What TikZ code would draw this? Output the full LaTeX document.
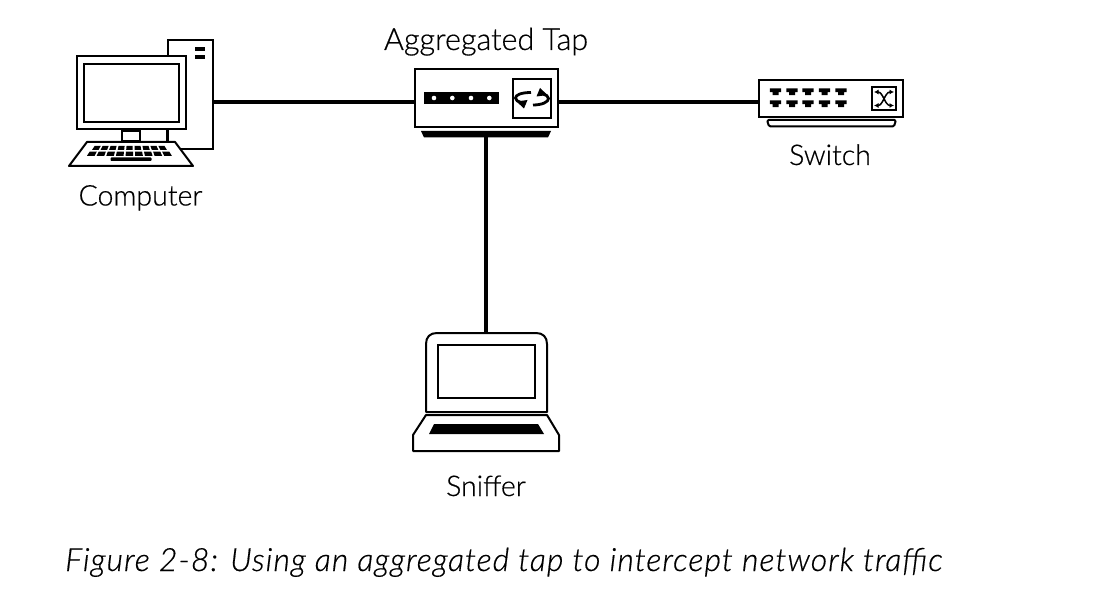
\documentclass[tikz,border=0pt]{standalone}
\usepackage{fontspec}
\setmainfont{Lato Light}[FakeBold=0.5]
\newfontfamily\capfont{Lato Light Italic}[LetterSpace=3.2,FakeBold=0.5]
\usetikzlibrary{arrows.meta,calc}
\tikzset{
  devbox/.style={draw=black,fill=white,line width=2pt,inner sep=0pt,outer sep=0pt,rectangle},
  thin line/.style={draw=black,line width=2pt,line join=round},
  solid black/.style={fill=black,draw=none},
  wire/.style={draw=black,line width=3.3pt},
  lbl/.style={font=\fontsize{28.5}{32}\selectfont,text=black,inner sep=0pt,anchor=base},
  caption/.style={font=\fontsize{32}{35}\capfont,text=black,inner sep=0pt,anchor=base west},
  swaparrow/.style={line width=1.5pt,{Latex[length=4.5pt,width=5pt]}-{Latex[length=4.5pt,width=5pt]}},
}
\newcommand{\boxat}[5]{\node[devbox,minimum width=#4pt-2pt,minimum height=#5pt-2pt] (#1) at (#2,#3) {};}
\begin{document}
\begin{tikzpicture}[x=1pt,y=-1pt]
\useasboundingbox[fill=white] (0,0) rectangle (1098,604);
% Computer
\boxat{tower}{190.5}{94.5}{47}{111}
\fill[black] (195,47.5) rectangle (205,51.5);
\fill[black] (195,55) rectangle (205,59);
\boxat{monitor}{131.5}{92.5}{111}{75}
\boxat{screen}{131.5}{93}{97}{60}
\boxat{neck}{131}{136}{20}{12}
\draw[thin line] (167,130) -- (167,142);
\draw[thin line,fill=white] (87,142) -- (175,142) -- (193,166) -- (69,166) -- cycle;
\foreach \k in {0,...,8} {
  \pgfmathsetmacro{\xa}{92+\k*8.55}
  \pgfmathsetmacro{\xb}{\xa+6.5}
  \fill[black] ({131+(\xa-131)*0.93},145.8) -- ({131+(\xb-131)*0.93},145.8) -- (\xb,150) -- (\xa,150) -- cycle;
  \pgfmathsetmacro{\xc}{87+\k*9.65}
  \pgfmathsetmacro{\xd}{\xc+7.6}
  \fill[black] ({131+(\xc-131)*0.94},151.7) -- ({131+(\xd-131)*0.94},151.7) -- (\xd,155.8) -- (\xc,155.8) -- cycle;
}
\fill[black,rounded corners=0.8pt] (110.5,157.5) rectangle (151.5,161);
% Tap
\boxat{tap}{486.5}{98}{145}{60}
\fill[black] (424,92) rectangle (499,104);
\foreach \dx in {434,452.3,471,489.3} \fill[white] (\dx,98) circle (2.3);
\boxat{tapicon}{532}{98.5}{40}{41}
\draw[line width=2.8pt] (531,92.5) .. controls (521,92.5) and (515.5,95) .. (515.5,98) .. controls (515.5,100) and (518,102) .. (521,102.5);
\draw[line width=2.8pt] (533,105) .. controls (542,105) and (548.5,102) .. (548.5,98.5) .. controls (548.5,96.5) and (546,94.5) .. (543,94);
\fill[black] (516.5,101.5) -- (527.5,100) -- (524,108.5) -- cycle;
\fill[black] (547.5,95) -- (536.5,96.5) -- (540,88) -- cycle;
\path[solid black] (421,131) -- (551,131) -- (548,137.5) -- (424,137.5) -- cycle;
% Switch
\boxat{switchbox}{831}{98.5}{146}{39}
\draw[thin line,rounded corners=1.5pt,fill=white] (767,120) -- (769,126.5) -- (894,126.5) -- (896,120) -- cycle;
\foreach \px in {775.5,792,808,824.5,841} {
  \foreach \py in {88.5,100.5} {
    \fill[black] (\px-5.7,\py) -- (\px+5.7,\py) -- (\px+5.7,\py+3.6) -- (\px+3,\py+3.6) -- (\px+3,\py+6.7) -- (\px-3,\py+6.7) -- (\px-3,\py+3.6) -- (\px-5.7,\py+3.6) -- cycle;
  }
}
\boxat{switchicon}{884}{98.5}{26}{25}
\draw[swaparrow] (874,92) .. controls (883,92) and (885,105.5) .. (894,105.5);
\draw[swaparrow] (874,105.5) .. controls (883,105.5) and (885,92) .. (894,92);
% Laptop
\draw[thin line,fill=white] (426,412) -- (426,344) .. controls (426,337) and (430,333) .. (437,333) -- (536,333) .. controls (543,333) and (547,337) .. (547,344) -- (547,412) -- cycle;
\node[devbox,minimum width=120pt,minimum height=77pt,draw=none,fill=none] (lid) at (486.5,372) {};
\boxat{lapscreen}{486.5}{371.5}{99}{55}
\draw[thin line,fill=white] (426,415) -- (547,415) -- (559,435) -- (559,451) -- (413,451) -- (413,435) -- cycle;
\path[solid black] (434,424) -- (538,424) -- (544,434) -- (429,434) -- cycle;
% Connectors
\coordinate (porty) at (486,102);
\draw[wire] (tower.east |- porty) -- (tap.west |- porty);
\draw[wire] (tap.east |- porty) -- (switchbox.west |- porty);
\draw[wire] (486,137) -- (lid.north -| 486,137);
% Labels
\node[lbl] (lcomputer) at (140.5,205.5) {Computer};
\node[lbl,font=\fontsize{30.5}{34}\selectfont] (ltap) at (486,50) {Aggregated Tap};
\node[lbl] (lswitch) at (830,165) {Switch};
\node[lbl] (lsniffer) at (486,496) {Sniffer};
\node[caption] (cap) at (65,571) {Figure 2-8: Using an aggregated tap to intercept network traffic};
\end{tikzpicture}
\end{document}
